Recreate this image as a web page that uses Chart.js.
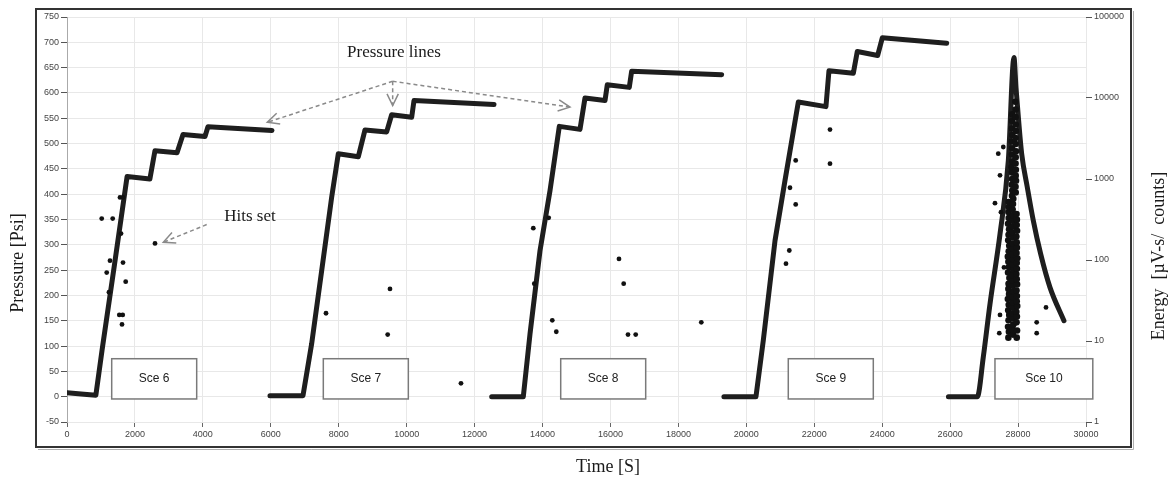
<!DOCTYPE html>
<html><head><meta charset="utf-8">
<script src="https://cdn.jsdelivr.net/npm/chart.js@4.4.1/dist/chart.umd.min.js"></script>
<style>html,body{margin:0;padding:0;background:#fff;}#wrap{width:1169px;height:483px;position:relative;}</style>
</head><body><div id="wrap"><canvas id="c" width="1169" height="483"></canvas></div>
<script>
// ---------- data ----------
const pressureTicks = [-50,0,50,100,150,200,250,300,350,400,450,500,550,600,650,700,750];
const timeTicks = [0,2000,4000,6000,8000,10000,12000,14000,16000,18000,20000,22000,24000,26000,28000,30000];
const energyTicks = [1,10,100,1000,10000,100000];
const scenarioNames = ['Sce 6','Sce 7','Sce 8','Sce 9','Sce 10'];

const sce6Time = [0,500,850,1030,1400,1770,2440,2590,3240,3415,4063,4150,6035];
const sce6Psi  = [8,5,3,91,262,435,430,486,482,518,514,533,526];
const sce7Time = [5976,6948,7204,7498,7792,7988,8577,8773,9411,9558,10148,10216,12571];
const sce7Psi  = [2,2,105,249,394,480,474,527,523,557,552,585,577];
const sce8Time = [12503,13434,13631,13925,14220,14494,15103,15250,15839,15906,16554,16624,19273];
const sce8Psi  = [0,0,124,288,407,534,528,590,585,616,611,643,636];
const sce9Time = [19340,20284,20499,20844,21138,21530,22344,22433,23150,23267,23867,24003,25898];
const sce9Psi  = [0,0,111,308,427,582,573,644,639,682,674,709,698];
const sce10Time = [25950,26800,26976,27173,27468,27713,27880,27938,28017,28106,28271,28448,28665,28939,29351];
const sce10Psi  = [0,0,78,183,321,466,670,611,545,480,414,348,282,216,150];

// scattered hits (energy, right axis)
const hitTime = [1022,1345,1560,1649,1590,2591,1266,1649,1169,1728,1236,1540,1640,1619,
  7625,9509,9441,11599,
  13728,14181,13757,14287,14405,16251,16389,16516,16743,18674,
  22463,22463,21453,21285,21453,21265,21167,
  27417,27565,27468,27320,27497,27585,27468,28548,28548,28822,27447];
const hitEnergy = [325,325,592,592,212,160,98,93,70,54,40,21,21,16,
  22,44,12,3.0,
  247,332,51,18,13,103,51,12,12,17,
  4074,1546,1698,780,485,131,90,
  2056,2484,1109,503,389,81,21,17,12.5,26,12.5];

// dense burst of hits in Sce 10
const burstTime = [27715,27730,27705,27720,27740,27710,27725,27700,27735,27715,27720,27745,27705,27730,27715,27700,27725,27740,27710,27720,27735,27705,27725,27715,27730,27720,
  27850,27840,27860,27845,27835,27855,27850,27840,27865,27845,27850,27835,27860,27845,27855,27840,27850,27845,27860,27835,27850,27845,27855,27840,27850,27860,
  27960,27970,27955,27965,27950,27975,27960,27965,27955,27970,27960,27950,27965,27960,27975,27955,27965,27960,27950,27970,27960,27965,27955,
  27820,27830,27815,27825,27820,27810,27830,27820,27825,27815,27830,27820,27825,27830,
  27930,27925,27940,27930,27935,27925,27930,27940,27930,27925,27935,27930,27925,27930,27920];
const burstEnergy = [11,13,15,18,21,24,28,33,38,44,51,60,70,82,95,110,128,150,175,205,240,280,330,390,450,520,
  12,14,16,19,22,26,30,35,41,48,56,65,76,88,102,118,138,160,190,220,260,305,360,420,490,570,
  11,13.5,17,20,23,27,31,36,42,50,58,67,78,92,105,122,142,165,195,230,270,315,370,
  620,720,850,1000,1200,1400,1650,2000,2400,2900,3500,4200,5200,6300,
  680,800,950,1100,1300,1550,1850,2200,2700,3200,3900,4700,5800,7200,9000];

// ---------- annotation layout (data coordinates) ----------
const sceBoxes = [
  {t0:1316, t1:3818}, {t0:7546, t1:10049}, {t0:14535, t1:17037}, {t0:21235, t1:23738}, {t0:27320, t1:30200}
];
const boxPsiTop = 75, boxPsiBottom = -4.5;
const pressureLinesLabel = {text:'Pressure lines', t:9627, p:680};
const pressureArrowOrigin = {t:9588, p:623};
const pressureArrowEnds = [{t:5897,p:542},{t:9588,p:575},{t:14808,p:572}];
const hitsLabel = {text:'Hits set', t:5388, p:356};
const hitsArrow = {t0:4113, p0:340, t1:2835, p1:305};

// ---------- build ----------
const pts = (ts, vs) => ts.map((t,i)=>({x:t, y:vs[i]}));
const lineDs = (ts, vs, smooth) => ({data:pts(ts,vs), showLine:true, borderColor:'#1e1e1e', borderWidth:5,
  pointRadius:0, yAxisID:'y', order:2, borderJoinStyle:'round', borderCapStyle:'round',
  cubicInterpolationMode: smooth ? 'monotone' : 'default'});

const serif = "'Liberation Serif','DejaVu Serif',serif";
const sans = "'Liberation Sans',Arial,sans-serif";

function arrow(ctx, x0,y0,x1,y1){
  ctx.save();
  ctx.strokeStyle='#8a8a8a'; ctx.lineWidth=1.5; ctx.setLineDash([4,3]);
  ctx.beginPath(); ctx.moveTo(x0,y0); ctx.lineTo(x1,y1); ctx.stroke();
  ctx.setLineDash([]);
  const a=Math.atan2(y1-y0,x1-x0), L=13, w=0.45;
  ctx.beginPath();
  ctx.moveTo(x1-L*Math.cos(a-w), y1-L*Math.sin(a-w));
  ctx.lineTo(x1,y1);
  ctx.lineTo(x1-L*Math.cos(a+w), y1-L*Math.sin(a+w));
  ctx.stroke();
  ctx.restore();
}

const annot = {
  id:'annot',
  afterDatasetsDraw(chart){
    const {ctx, scales:{x,y}} = chart;
    ctx.save();
    sceBoxes.forEach((b,i)=>{
      const x0=x.getPixelForValue(b.t0), x1=x.getPixelForValue(b.t1);
      const y0=y.getPixelForValue(boxPsiTop), y1=y.getPixelForValue(boxPsiBottom);
      ctx.fillStyle='#fff'; ctx.fillRect(x0,y0,x1-x0,y1-y0);
      ctx.strokeStyle='#7a7a7a'; ctx.lineWidth=1.5; ctx.strokeRect(x0,y0,x1-x0,y1-y0);
      ctx.fillStyle='#222'; ctx.font='12px '+sans; ctx.textAlign='center'; ctx.textBaseline='middle';
      ctx.fillText(scenarioNames[i], (x0+x1)/2, (y0+y1)/2);
    });
    const ox=x.getPixelForValue(pressureArrowOrigin.t), oy=y.getPixelForValue(pressureArrowOrigin.p);
    pressureArrowEnds.forEach(e=>arrow(ctx, ox, oy, x.getPixelForValue(e.t), y.getPixelForValue(e.p)));
    ctx.fillStyle='#1a1a1a'; ctx.font='17px '+serif; ctx.textAlign='center'; ctx.textBaseline='middle';
    ctx.fillText(pressureLinesLabel.text, x.getPixelForValue(pressureLinesLabel.t), y.getPixelForValue(pressureLinesLabel.p));
    arrow(ctx, x.getPixelForValue(hitsArrow.t0), y.getPixelForValue(hitsArrow.p0), x.getPixelForValue(hitsArrow.t1), y.getPixelForValue(hitsArrow.p1));
    ctx.fillText(hitsLabel.text, x.getPixelForValue(hitsLabel.t), y.getPixelForValue(hitsLabel.p));
    ctx.restore();
  },
  afterDraw(chart){
    const ctx = chart.ctx;
    ctx.save();
    ctx.strokeStyle='#b0b0b0'; ctx.lineWidth=1;
    ctx.beginPath(); ctx.moveTo(38,449.5); ctx.lineTo(1133.5,449.5); ctx.lineTo(1133.5,11); ctx.stroke();
    ctx.strokeStyle='#333'; ctx.lineWidth=2;
    ctx.strokeRect(36,9,1095,438);
    ctx.fillStyle='#1a1a1a'; ctx.font='18px '+serif; ctx.textAlign='center'; ctx.textBaseline='middle';
    ctx.fillText('Time [S]', 608, 467);
    ctx.save(); ctx.translate(18,263); ctx.rotate(-Math.PI/2); ctx.fillText('Pressure [Psi]',0,0); ctx.restore();
    ctx.save(); ctx.translate(1159,256); ctx.rotate(-Math.PI/2); ctx.fillText('Energy  [µV-s/  counts]',0,0); ctx.restore();
    ctx.restore();
  }
};

new Chart(document.getElementById('c'), {
  type:'scatter',
  data:{datasets:[
    lineDs(sce6Time,sce6Psi), lineDs(sce7Time,sce7Psi), lineDs(sce8Time,sce8Psi),
    lineDs(sce9Time,sce9Psi), lineDs(sce10Time,sce10Psi,true),
    {data:pts(hitTime,hitEnergy), yAxisID:'y2', pointRadius:2.4, backgroundColor:'#111', borderWidth:0, order:1},
    {data:pts(burstTime,burstEnergy), yAxisID:'y2', pointRadius:3.3, backgroundColor:'#111', borderWidth:0, order:1}
  ]},
  options:{
    responsive:false, animation:false, devicePixelRatio:1,
    layout:{padding:{top:17,left:0,right:0,bottom:0}},
    plugins:{legend:{display:false}, tooltip:{enabled:false}},
    scales:{
      x:{type:'linear', min:0, max:30000,
        afterBuildTicks:a=>{a.ticks=timeTicks.map(v=>({value:v}));},
        afterFit:s=>{s.height=61;},
        ticks:{font:{size:9,family:sans}, color:'#444', maxRotation:0, padding:2, callback:v=>String(v)},
        grid:{color:'#e8e8e8', tickColor:'#666', tickLength:5},
        border:{display:false}},
      y:{type:'linear', position:'left', min:-50, max:750,
        afterBuildTicks:a=>{a.ticks=pressureTicks.map(v=>({value:v}));},
        afterFit:s=>{s.width=67;},
        ticks:{font:{size:9,family:sans}, color:'#444', padding:2, callback:v=>String(v)},
        grid:{color:'#e8e8e8', tickColor:'#555', tickLength:6},
        border:{display:true, color:'#aaa'}},
      y2:{type:'logarithmic', position:'right', min:1, max:100000,
        afterBuildTicks:a=>{a.ticks=energyTicks.map(v=>({value:v}));},
        afterFit:s=>{s.width=83;},
        ticks:{font:{size:9,family:sans}, color:'#444', padding:2, callback:v=>String(v)},
        grid:{drawOnChartArea:false, tickColor:'#555', tickLength:6},
        border:{display:false}}
    }
  },
  plugins:[annot]
});
</script></body></html>
